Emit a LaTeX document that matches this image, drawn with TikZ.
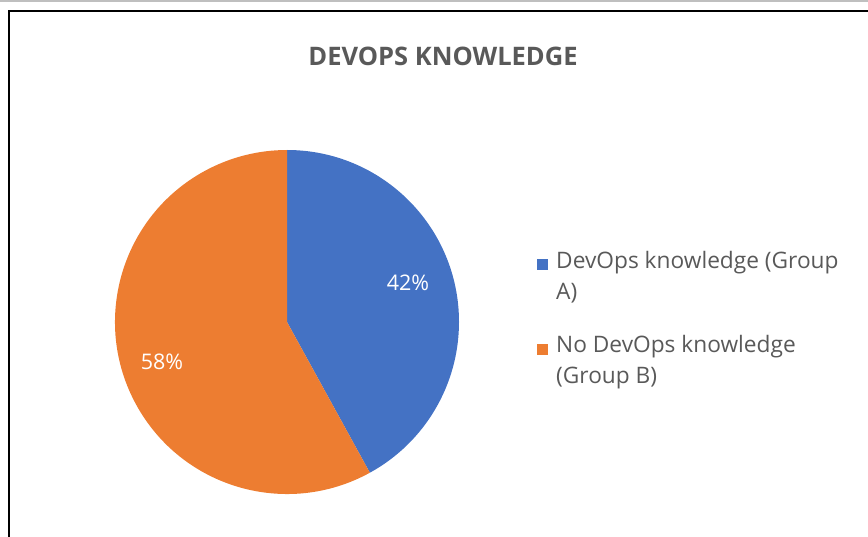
\documentclass[tikz,border=0pt]{standalone}
\usepackage{fontspec}
\setmainfont{Open Sans}
\definecolor{sliceA}{HTML}{4472C4}
\definecolor{sliceB}{HTML}{ED7D31}
\definecolor{chartText}{HTML}{595959}
\begin{document}
\begin{tikzpicture}[x=1pt,y=-1pt,
  pct/.style={text=white,font=\fontsize{21.5}{24}\selectfont,inner sep=0pt},
  legtext/.style={text=chartText,font=\fontsize{22.7}{31.5}\selectfont,anchor=north west,align=left,inner sep=0pt},
  legkey/.style={minimum size=11pt,inner sep=0pt}]
\useasboundingbox (0,0) rectangle (868,537);
% window edge and chart frame
\fill[black!25] (0,0) rectangle (868,2.5);
\draw[line width=2.2pt,black] (9,537) -- (9,11) -- (868,11);
% title
\node[text=chartText,font=\bfseries\fontsize{25.5}{30}\selectfont] (title) at (443,56) {DEVOPS KNOWLEDGE};
% pie
\coordinate (c) at (287,322);
\fill[sliceA] (c) -- ++(-90:172) arc[start angle=-90,end angle=61.2,radius=172] -- cycle;
\fill[sliceB] (c) -- ++(61.2:172) arc[start angle=61.2,end angle=270,radius=172] -- cycle;
\node[pct] (pa) at (408,283) {42\%};
\node[pct] (pb) at (162,362) {58\%};
% legend
\node[legkey,fill=sliceA] (ka) at (542.5,265) {};
\node[legkey,fill=sliceB] (kb) at (542.5,349.5) {};
\node[legtext] (la) at (556,251) {DevOps knowledge (Group\\A)};
\node[legtext] (lb) at (556,335) {No DevOps knowledge\\(Group B)};
\end{tikzpicture}
\end{document}
